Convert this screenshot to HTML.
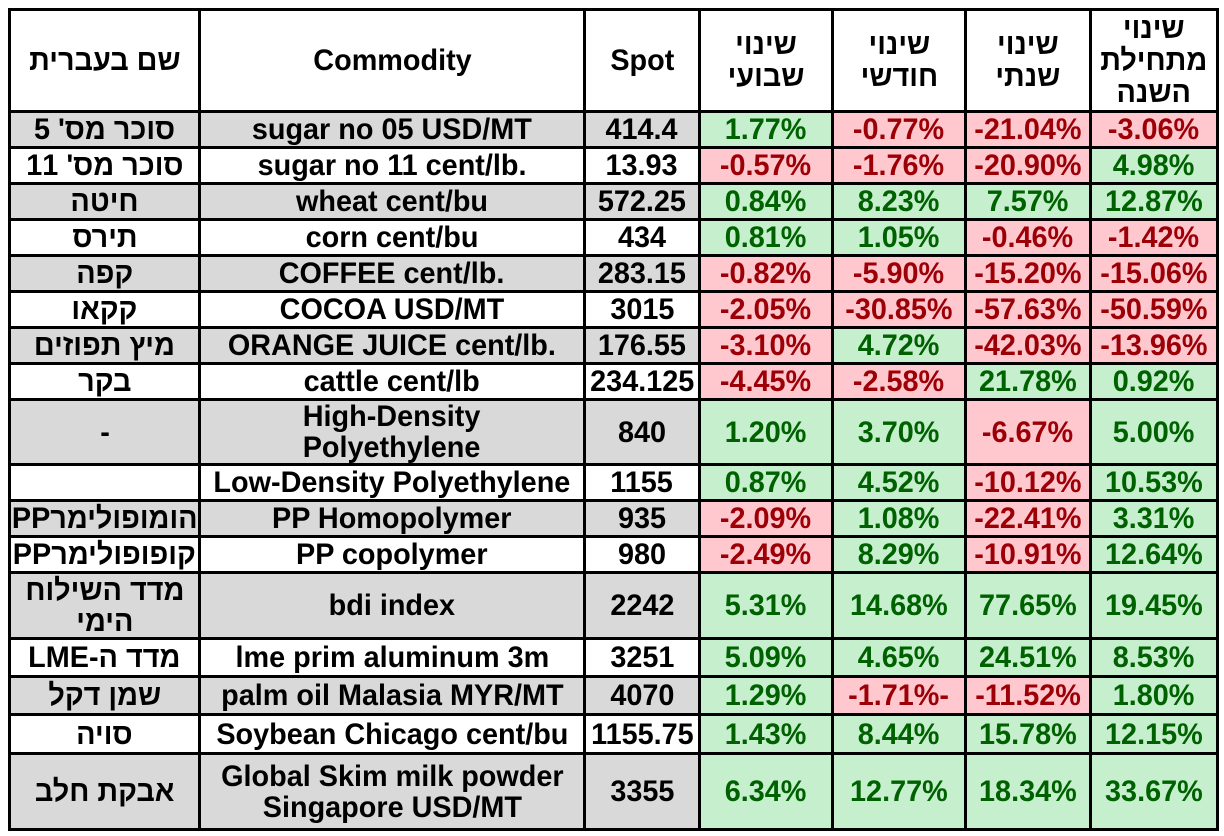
<!DOCTYPE html>
<html><head><meta charset="utf-8"><style>
html,body{margin:0;padding:0;background:#fff;width:1224px;height:836px;overflow:hidden}
table{position:absolute;left:8px;top:8px;width:1208px;border-collapse:collapse;table-layout:fixed;font-family:"Liberation Sans","Noto Sans CJK SC",Arial,sans-serif;font-weight:bold;font-size:30px;color:#000}
td{border:3px solid #000;text-align:center;padding:0;line-height:31px;overflow:hidden;white-space:nowrap}
td span.t{display:inline-block;transform:scaleX(.96);transform-origin:center}
td.w{white-space:normal}
.g{background:#d9d9d9}
.p{background:#c6efce;color:#006100}
.n{background:#ffc7ce;color:#9c0006}
.h{line-height:32px}
.c{margin:0 -20px}
</style></head><body>
<table>
<colgroup><col style="width:190px"><col style="width:385px"><col style="width:115px"><col style="width:133px"><col style="width:133px"><col style="width:125px"><col style="width:127px"></colgroup>
<tr style="height:102px"><td dir="rtl"><span class="t">שם בעברית</span></td><td><span class="t">Commodity</span></td><td><span class="t">Spot</span></td><td class="w h" dir="rtl"><span class="t">שינוי<br>שבועי</span></td><td class="w h" dir="rtl"><span class="t">שינוי<br>חודשי</span></td><td class="w h" dir="rtl"><span class="t">שינוי<br>שנתי</span></td><td class="w h" dir="rtl"><span class="t c">שינוי<br>מתחילת<br>השנה</span></td></tr>
<tr style="height:36px"><td class="g" dir="rtl"><span class="t">סוכר מס' 5</span></td><td class="g"><span class="t">sugar no 05 USD/MT</span></td><td class="g"><span class="t">414.4</span></td><td class="p"><span class="t">1.77%</span></td><td class="n"><span class="t">-0.77%</span></td><td class="n"><span class="t c">-21.04%</span></td><td class="n"><span class="t">-3.06%</span></td></tr>
<tr style="height:36px"><td dir="rtl"><span class="t">סוכר מס' 11</span></td><td><span class="t">sugar no 11 cent/lb.</span></td><td><span class="t">13.93</span></td><td class="n"><span class="t">-0.57%</span></td><td class="n"><span class="t">-1.76%</span></td><td class="n"><span class="t c">-20.90%</span></td><td class="p"><span class="t">4.98%</span></td></tr>
<tr style="height:36px"><td class="g" dir="rtl"><span class="t">חיטה</span></td><td class="g"><span class="t">wheat cent/bu</span></td><td class="g"><span class="t">572.25</span></td><td class="p"><span class="t">0.84%</span></td><td class="p"><span class="t">8.23%</span></td><td class="p"><span class="t">7.57%</span></td><td class="p"><span class="t">12.87%</span></td></tr>
<tr style="height:36px"><td dir="rtl"><span class="t">תירס</span></td><td><span class="t">corn cent/bu</span></td><td><span class="t">434</span></td><td class="p"><span class="t">0.81%</span></td><td class="p"><span class="t">1.05%</span></td><td class="n"><span class="t">-0.46%</span></td><td class="n"><span class="t">-1.42%</span></td></tr>
<tr style="height:36px"><td class="g" dir="rtl"><span class="t">קפה</span></td><td class="g"><span class="t">COFFEE cent/lb.</span></td><td class="g"><span class="t">283.15</span></td><td class="n"><span class="t">-0.82%</span></td><td class="n"><span class="t">-5.90%</span></td><td class="n"><span class="t c">-15.20%</span></td><td class="n"><span class="t c">-15.06%</span></td></tr>
<tr style="height:36px"><td dir="rtl"><span class="t">קקאו</span></td><td><span class="t">COCOA USD/MT</span></td><td><span class="t">3015</span></td><td class="n"><span class="t">-2.05%</span></td><td class="n"><span class="t c">-30.85%</span></td><td class="n"><span class="t c">-57.63%</span></td><td class="n"><span class="t c">-50.59%</span></td></tr>
<tr style="height:36px"><td class="g" dir="rtl"><span class="t">מיץ תפוזים</span></td><td class="g"><span class="t">ORANGE JUICE cent/lb.</span></td><td class="g"><span class="t">176.55</span></td><td class="n"><span class="t">-3.10%</span></td><td class="p"><span class="t">4.72%</span></td><td class="n"><span class="t c">-42.03%</span></td><td class="n"><span class="t c">-13.96%</span></td></tr>
<tr style="height:36px"><td dir="rtl"><span class="t">בקר</span></td><td><span class="t">cattle cent/lb</span></td><td><span class="t c">234.125</span></td><td class="n"><span class="t">-4.45%</span></td><td class="n"><span class="t">-2.58%</span></td><td class="p"><span class="t">21.78%</span></td><td class="p"><span class="t">0.92%</span></td></tr>
<tr style="height:65px"><td class="g"><span class="t">-</span></td><td class="g w"><span class="t">High-Density<br>Polyethylene</span></td><td class="g"><span class="t">840</span></td><td class="p"><span class="t">1.20%</span></td><td class="p"><span class="t">3.70%</span></td><td class="n"><span class="t">-6.67%</span></td><td class="p"><span class="t">5.00%</span></td></tr>
<tr style="height:36px"><td></td><td><span class="t c">Low-Density Polyethylene</span></td><td><span class="t">1155</span></td><td class="p"><span class="t">0.87%</span></td><td class="p"><span class="t">4.52%</span></td><td class="n"><span class="t c">-10.12%</span></td><td class="p"><span class="t c">10.53%</span></td></tr>
<tr style="height:36px"><td class="g" dir="rtl"><span class="t c">הומופולימרPP</span></td><td class="g"><span class="t">PP Homopolymer</span></td><td class="g"><span class="t">935</span></td><td class="n"><span class="t">-2.09%</span></td><td class="p"><span class="t">1.08%</span></td><td class="n"><span class="t c">-22.41%</span></td><td class="p"><span class="t">3.31%</span></td></tr>
<tr style="height:36px"><td dir="rtl"><span class="t c">קופופולימרPP</span></td><td><span class="t">PP copolymer</span></td><td><span class="t">980</span></td><td class="n"><span class="t">-2.49%</span></td><td class="p"><span class="t">8.29%</span></td><td class="n"><span class="t c">-10.91%</span></td><td class="p"><span class="t c">12.64%</span></td></tr>
<tr style="height:66px"><td class="g w" dir="rtl"><span class="t">מדד השילוח<br>הימי</span></td><td class="g"><span class="t">bdi index</span></td><td class="g"><span class="t">2242</span></td><td class="p"><span class="t">5.31%</span></td><td class="p"><span class="t">14.68%</span></td><td class="p"><span class="t c">77.65%</span></td><td class="p"><span class="t c">19.45%</span></td></tr>
<tr style="height:38px"><td dir="rtl"><span class="t">מדד ה-LME</span></td><td><span class="t">lme prim aluminum 3m</span></td><td><span class="t">3251</span></td><td class="p"><span class="t">5.09%</span></td><td class="p"><span class="t">4.65%</span></td><td class="p"><span class="t c">24.51%</span></td><td class="p"><span class="t">8.53%</span></td></tr>
<tr style="height:38px"><td class="g" dir="rtl"><span class="t">שמן דקל</span></td><td class="g"><span class="t">palm oil Malasia MYR/MT</span></td><td class="g"><span class="t">4070</span></td><td class="p"><span class="t">1.29%</span></td><td class="n"><span class="t">-1.71%-</span></td><td class="n"><span class="t c">-11.52%</span></td><td class="p"><span class="t">1.80%</span></td></tr>
<tr style="height:39px"><td dir="rtl"><span class="t">סויה</span></td><td><span class="t c">Soybean Chicago cent/bu</span></td><td><span class="t c">1155.75</span></td><td class="p"><span class="t">1.43%</span></td><td class="p"><span class="t">8.44%</span></td><td class="p"><span class="t c">15.78%</span></td><td class="p"><span class="t c">12.15%</span></td></tr>
<tr style="height:76px"><td class="g" dir="rtl"><span class="t">אבקת חלב</span></td><td class="g w"><span class="t">Global Skim milk powder<br>Singapore USD/MT</span></td><td class="g"><span class="t">3355</span></td><td class="p"><span class="t">6.34%</span></td><td class="p"><span class="t">12.77%</span></td><td class="p"><span class="t c">18.34%</span></td><td class="p"><span class="t c">33.67%</span></td></tr>
</table>
</body></html>
